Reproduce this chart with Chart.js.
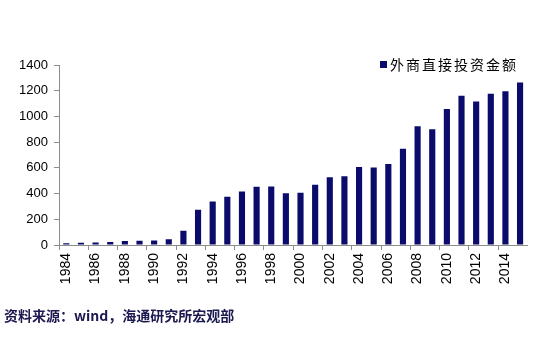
<!DOCTYPE html>
<html>
<head>
<meta charset="utf-8">
<script src="https://cdn.jsdelivr.net/npm/chart.js@4"></script>
<style>
  html, body { margin: 0; padding: 0; background: #fff; }
  #wrap { position: relative; width: 540px; height: 339px; }
  #source {
    position: absolute; left: 4px; top: 305px;
    font: bold 14px "Noto Sans CJK SC", sans-serif;
    color: #1c1850; white-space: nowrap;
  }
</style>
</head>
<body>
<div id="wrap">
  <canvas id="fdiChart" width="540" height="339"></canvas>
  <div id="source">资料来源：wind，海通研究所宏观部</div>
</div>
<script>
// Số liệu (1984 - 2015)
const years = ['1984','1985','1986','1987','1988','1989','1990','1991','1992','1993',
  '1994','1995','1996','1997','1998','1999','2000','2001','2002','2003','2004','2005',
  '2006','2007','2008','2009','2010','2011','2012','2013','2014','2015'];
const fdiValues = [13, 17, 19, 23, 32, 34, 35, 44, 110, 275,
  338, 375, 417, 453, 455, 403, 407, 469, 527, 535, 606, 603,
  630, 748, 924, 900, 1057, 1160, 1117, 1176, 1196, 1263];
const seriesLabel = '外商直接投资金额';
const yTicks = { min: 0, max: 1400, step: 200 };

const barColor = '#0b0b6c';
const axisColor = '#8c8c8c';

// Plugin vẽ chú thích bên trong vùng biểu đồ
const legendPlugin = {
  id: 'innerLegend',
  afterDraw(chart) {
    const ctx = chart.ctx;
    const ds = chart.data.datasets[0];
    ctx.save();
    ctx.fillStyle = ds.backgroundColor;
    ctx.fillRect(380, 61, 7, 7);
    ctx.font = '14px "Noto Sans CJK SC", sans-serif';
    ctx.fillStyle = '#000';
    ctx.textBaseline = 'middle';
    ctx.letterSpacing = '2px';
    ctx.fillText(ds.label, 390, 65);
    ctx.restore();
  }
};

new Chart(document.getElementById('fdiChart'), {
  type: 'bar',
  data: {
    labels: years,
    datasets: [{
      label: seriesLabel,
      data: fdiValues,
      backgroundColor: barColor,
      barPercentage: 0.42,
      categoryPercentage: 1
    }]
  },
  options: {
    responsive: false,
    animation: false,
    layout: { padding: { left: 9, right: 9, top: 65, bottom: 52 } },
    plugins: {
      legend: { display: false },
      tooltip: { enabled: false }
    },
    scales: {
      x: {
        offset: true,
        afterFit: (scale) => { scale.height = 42; },
        grid: {
          offset: true,
          drawOnChartArea: false,
          tickLength: 5,
          color: (c) => (c.index % 2 === 0 ? axisColor : 'rgba(0,0,0,0)')
        },
        border: { display: true, color: axisColor },
        ticks: {
          autoSkip: false,
          minRotation: 90,
          maxRotation: 90,
          padding: 3,
          color: '#000',
          font: { family: '"Liberation Sans", sans-serif', size: 14 },
          callback: function(value, index) {
            return index % 2 === 0 ? this.getLabelForValue(value) : '';
          }
        }
      },
      y: {
        min: yTicks.min,
        max: yTicks.max,
        afterFit: (scale) => { scale.width = 50; },
        grid: { drawOnChartArea: false, tickLength: 5, color: axisColor },
        border: { display: true, color: axisColor },
        ticks: {
          stepSize: yTicks.step,
          padding: 6,
          color: '#000',
          font: { family: '"Liberation Sans", sans-serif', size: 13 },
          callback: (value) => String(value)
        }
      }
    }
  },
  plugins: [legendPlugin]
});
</script>
</body>
</html>
